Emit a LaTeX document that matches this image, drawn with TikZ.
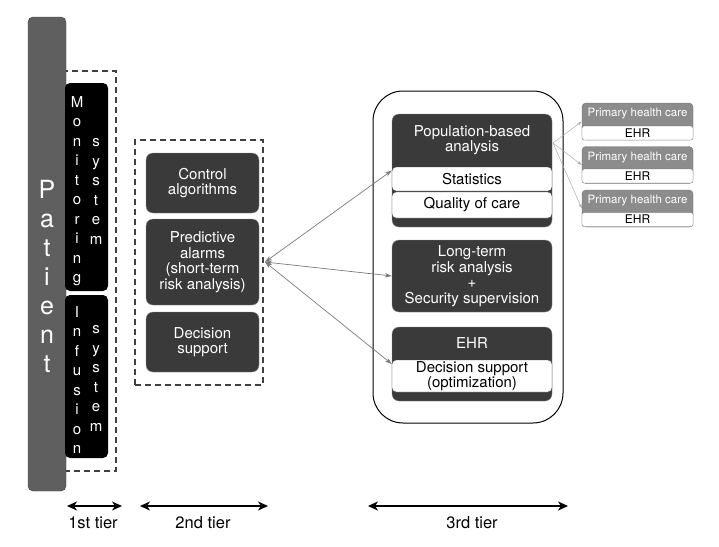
\documentclass[tikz,border=0pt]{standalone}
\usepackage{fontspec}
\setmainfont{TeX Gyre Heros}
\usetikzlibrary{arrows.meta}
\definecolor{patgray}{HTML}{5F5F5F}
\definecolor{patline}{HTML}{404040}
\definecolor{boxdark}{HTML}{3A3A3A}
\definecolor{boxline}{HTML}{8A8A8A}
\definecolor{phcgray}{HTML}{8C8C8C}
\definecolor{phcline}{HTML}{707070}
\definecolor{linkgray}{HTML}{7A7A7A}
\definecolor{thingray}{HTML}{ABABAB}
\begin{document}
\begin{tikzpicture}[x=1pt,y=-1pt,
  darkbox/.style={draw=boxline, fill=boxdark, rounded corners=7pt, inner sep=0pt},
  whiterow/.style={draw=patline, fill=white, rounded corners=4pt, inner sep=0pt, minimum width=160, font=\fontsize{15}{15.5}\selectfont, align=center},
  wtext/.style={text=white, font=\fontsize{15}{15.5}\selectfont, align=center, inner sep=0pt},
  blackbox/.style={fill=black, rounded corners=5pt, inner sep=0pt, minimum width=43},
  stack/.style={text=white, font=\fontsize{15}{19.5}\selectfont, align=center, inner sep=0pt},
  tierbox/.style={draw=patline, line width=1.2pt, dash pattern=on 6pt off 4pt},
  phcbox/.style={draw=phcline, fill=phcgray, rounded corners=4pt, inner sep=0pt, minimum width=111, minimum height=37},
  phcrow/.style={draw=phcline, fill=white, rounded corners=2pt, inner sep=0pt, minimum width=111, minimum height=14, font=\fontsize{12}{12}\selectfont},
  phctext/.style={text=white, font=\fontsize{11.5}{11.5}\selectfont, inner sep=0pt},
  link/.style={draw=linkgray, line width=0.7pt, {Stealth[length=7pt,width=4.5pt]}-{Stealth[length=7pt,width=4.5pt]}},
  thinlink/.style={draw=thingray, line width=0.5pt, -{Stealth[length=5pt,width=3pt]}},
  tierarrow/.style={line width=1.7pt, {Stealth[length=10pt,width=9pt,inset=3pt]}-{Stealth[length=10pt,width=9pt,inset=3pt]}},
  tierlbl/.style={font=\fontsize{16.5}{16.5}\selectfont, inner sep=0pt}]
\useasboundingbox (0,0) rectangle (719,546);

% 1st tier
\node[tierbox, minimum width=52, minimum height=400, inner sep=0pt] (tierone) at (90,271) {};
\node[draw=patline, fill=patgray, rounded corners=5pt, minimum width=38, minimum height=474, inner sep=0pt] (patient) at (47,254) {};
\node[text=white, font=\fontsize{25}{29}\selectfont, align=center, inner sep=0pt] (patlbl) at (47,276) {P\\a\\t\\i\\e\\n\\t};
\node[blackbox, minimum height=208] (monitor) at (86.5,187) {};
\node[stack] (monlbl) at (77,191) {M\\o\\n\\i\\t\\o\\r\\i\\n\\g};
\node[stack] (monsys) at (96,191.5) {s\\y\\s\\t\\e\\m};
\node[blackbox, minimum height=163] (infusion) at (86.5,376.5) {};
\node[stack] (inflbl) at (77,380) {I\\n\\f\\u\\s\\i\\o\\n};
\node[stack] (infsys) at (96,378.5) {s\\y\\s\\t\\e\\m};

% 2nd tier
\node[tierbox, minimum width=128, minimum height=245, inner sep=0pt] (tiertwo) at (199,262.5) {};
\node[darkbox, minimum width=113, minimum height=60] (control) at (202.5,183) {};
\node[wtext] (controllbl) at (control) {Control\\algorithms};
\node[darkbox, minimum width=113, minimum height=86] (predict) at (202.5,262) {};
\node[wtext] (predictlbl) at (predict) {Predictive\\alarms\\(short-term\\risk analysis)};
\node[darkbox, minimum width=113, minimum height=60] (decide) at (202.5,342) {};
\node[wtext] (decidelbl) at (decide) {Decision\\support};

% 3rd tier
\node[draw, line width=1pt, rounded corners=30pt, minimum width=190, minimum height=332, inner sep=0pt] (tierthree) at (468,257) {};
\node[darkbox, minimum width=160, minimum height=113] (pop) at (472,170.5) {};
\node[wtext] (poplbl) at (472,140) {Population-based\\analysis};
\node[whiterow, minimum height=24] (stats) at (472,179) {Statistics};
\node[whiterow, minimum height=26] (quality) at (472,205) {Quality of care};
\node[darkbox, minimum width=160, minimum height=72] (longterm) at (472,276) {};
\node[wtext] (longtermlbl) at (longterm) {Long-term\\risk analysis\\+\\Security supervision};
\node[darkbox, minimum width=160, minimum height=74] (ehr) at (472,364) {};
\node[wtext] (ehrlbl) at (472,343) {EHR};
\node[whiterow, minimum height=32] (optim) at (472,376) {Decision support\\(optimization)};

% primary health care
\node[phcbox] (phc1) at (637.5,121.5) {};
\node[phcrow] (phcehr1) at (637.5,133) {EHR};
\node[phctext] (phclbl1) at (637.5,114) {Primary health care};
\node[phcbox] (phc2) at (637.5,165) {};
\node[phcrow] (phcehr2) at (637.5,176) {EHR};
\node[phctext] (phclbl2) at (637.5,158) {Primary health care};
\node[phcbox] (phc3) at (637.5,208.5) {};
\node[phcrow] (phcehr3) at (637.5,219.5) {EHR};
\node[phctext] (phclbl3) at (637.5,201) {Primary health care};

% links
\coordinate (hub) at (265,262);
\draw[link] (hub) -- (pop.west);
\draw[link] (hub) -- (longterm.west);
\draw[link] (hub) -- (ehr.west);
\coordinate (popout) at (553,143);
\draw[thinlink] (popout) -- (phc1.west);
\draw[thinlink] (popout) -- (phc2.west);
\draw[thinlink] (popout) -- (phc3.west);

% tiers
\coordinate (t1a) at (67,506); \coordinate (t1b) at (122,506);
\coordinate (t2a) at (140,506); \coordinate (t2b) at (268,506);
\coordinate (t3a) at (368,506); \coordinate (t3b) at (568,506);
\draw[tierarrow] (t1a) -- (t1b);
\draw[tierarrow] (t2a) -- (t2b);
\draw[tierarrow] (t3a) -- (t3b);
\node[tierlbl] (t1lbl) at (93,523) {1st tier};
\node[tierlbl] (t2lbl) at (203,523) {2nd tier};
\node[tierlbl] (t3lbl) at (472,523) {3rd tier};
\end{tikzpicture}
\end{document}
